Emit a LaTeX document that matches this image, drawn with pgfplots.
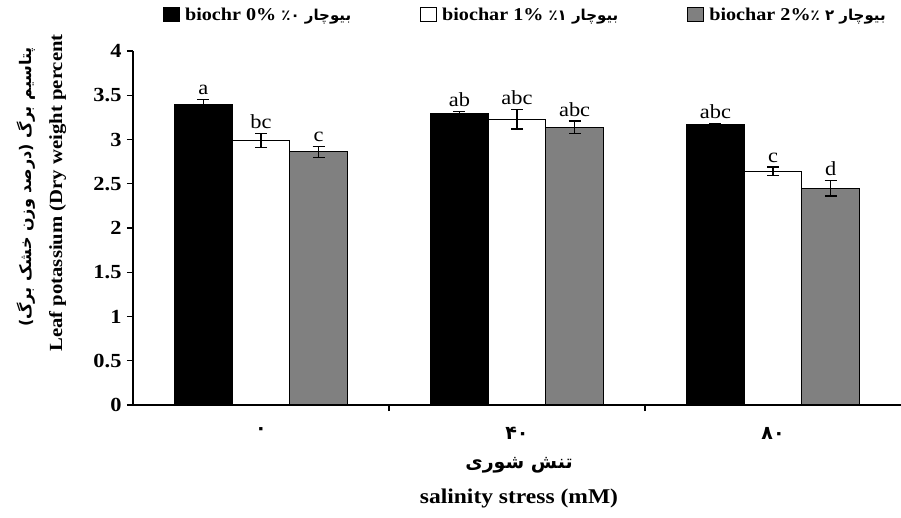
\documentclass[border=0pt]{standalone}
\usepackage{fontspec}
\setmainfont{Liberation Serif}[FakeStretch=1.12]
\newfontfamily\arabicfont[Script=Arabic]{DejaVu Sans}
\TeXXeTstate=1
\usepackage{pgfplots}
\pgfplotsset{compat=1.18}
\newcommand{\lfa}[1]{{\arabicfont\fontsize{15}{16}\selectfont\beginR #1\endR}}
\begin{document}
\begin{tikzpicture}
\begin{axis}[
  scale only axis, width=768pt, height=354pt,
  at={(0,0)}, anchor=south west,
  xmin=-0.5, xmax=2.5, ymin=0, ymax=4,
  clip=false,
  axis x line*=bottom, axis y line*=left,
  axis line style={-, line width=1.2pt},
  tick align=outside,
  major tick length=6pt,
  tick style={black, line width=1.2pt},
  ytick={0,0.5,1,1.5,2,2.5,3,3.5,4},
  yticklabel style={font=\bfseries\fontsize{20}{22}\selectfont, xshift=-2pt},
  /pgf/number format/assume math mode=true,
  xtick={0.5,1.5}, xticklabels={},
  extra x ticks={0,1,2},
  extra x tick labels={{\arabicfont\bfseries ۰},{\arabicfont\bfseries ۴۰},{\arabicfont\bfseries ۸۰}},
  extra x tick style={major tick length=0pt, xticklabel style={yshift=-19pt, font=\fontsize{19}{21}\selectfont}},
  legend style={at={(axis description cs:0.035,1.102)}, anchor=west, draw=none, fill=none,
    legend columns=3, font=\bfseries\fontsize{18}{20}\selectfont,
    /tikz/every odd column/.append style={column sep=3pt},
    /tikz/every even column/.append style={column sep=67pt},
    legend cell align=left},
  legend image code/.code={\draw[#1, line width=1pt] (0pt,-7pt) rectangle (16pt,7pt);},
  error bars/y dir=both, error bars/y explicit,
  error bars/error bar style={line width=1.3pt, black},
  error bars/error mark options={rotate=90, mark size=6pt, line width=1.3pt, black},
]
\addplot[ybar, bar width=0.225, bar shift=0, fill=black, draw=black, line width=1.2pt]
  coordinates {(-0.225,3.40) +- (0,0.05) (0.775,3.29) +- (0,0.03) (1.775,3.17) +- (0,0.01)};
\addlegendentry{biochr 0\% \lfa{بیوچار ٪۰}}
\addplot[ybar, bar width=0.225, bar shift=0, fill=white, draw=black, line width=1.2pt]
  coordinates {(0,2.99) +- (0,0.08) (1,3.23) +- (0,0.11) (2,2.64) +- (0,0.05)};
\addlegendentry{biochar 1\% \lfa{بیوچار ٪۱}}
\addplot[ybar, bar width=0.225, bar shift=0, fill=gray, draw=black, line width=1.2pt]
  coordinates {(0.225,2.86) +- (0,0.06) (1.225,3.14) +- (0,0.07) (2.225,2.45) +- (0,0.09)};
\addlegendentry{biochar 2\%\lfa{بیوچار ۲ ٪}}
\addplot[draw=none, mark=none, forget plot, nodes near coords, point meta=explicit symbolic,
  nodes near coords style={anchor=south, yshift=1pt, font=\fontsize{20}{22}\selectfont}]
  coordinates {(-0.225,3.45) [a] (0,3.07) [bc] (0.225,2.92) [c]
               (0.775,3.32) [ab] (1,3.34) [abc] (1.225,3.21) [abc]
               (1.775,3.18) [abc] (2,2.69) [c] (2.225,2.54) [d]};
\node[rotate=90, font=\bfseries\fontsize{18.5}{20}\selectfont] at (axis description cs:-0.098,0.599) {Leaf potassium (Dry weight percent};
\node[rotate=90, font=\arabicfont\bfseries\fontsize{16}{18}\selectfont] at (axis description cs:-0.139,0.616) {\beginR پتاسیم برگ (درصد وزن خشک برگ)\endR};
\node[font=\arabicfont\bfseries\fontsize{19}{21}\selectfont] at (axis description cs:0.5026,-0.169) {\beginR تنش شوری\endR};
\node[font=\bfseries\fontsize{21}{23}\selectfont] at (axis description cs:0.5026,-0.263) {salinity stress (mM)};
\end{axis}
\pgfresetboundingbox
\path[use as bounding box] (-133pt,-112pt) rectangle (768pt,405pt);
\end{tikzpicture}
\end{document}
